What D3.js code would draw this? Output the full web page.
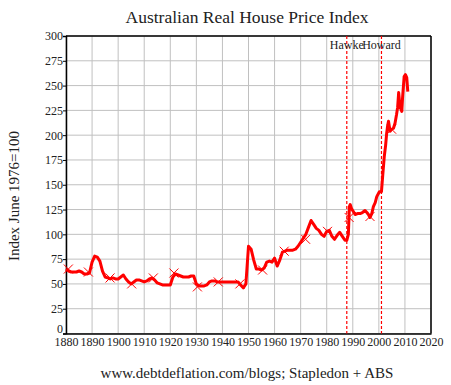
<!DOCTYPE html>
<html><head><meta charset="utf-8">
<script src="https://cdn.jsdelivr.net/npm/d3@7/dist/d3.min.js"></script>
<style>body{margin:0;background:#fff}svg{display:block}</style>
</head><body><svg id="c" width="451" height="385"></svg>
<script>
const years = [1880,1881,1882,1883,1884,1885,1886,1887,1888,1889,1890,1891,1892,1893,1894,1895,1896,1897,1898,1899,
1900,1901,1902,1903,1904,1905,1906,1907,1908,1909,1910,1911,1912,1913,1914,1915,1916,1917,1918,1919,
1920,1921,1922,1923,1924,1925,1926,1927,1928,1929,1930,1931,1932,1933,1934,1935,1936,1937,1938,1939,
1940,1941,1942,1943,1944,1945,1946,1947,1948,1949,1950,1951,1952,1953,1954,1955,1956,1957,1958,1959,
1960,1961,1962,1963,1964,1965,1966,1967,1968,1969,1970,1971,1972,1973,1974,1975,1976,1977,1978,1979,
1980,1981,1982,1983,1984,1985,1986,1987,1987.7,1988.3,1988.7,1989.0,1989.5,1990.2,1990.9,1991.8,1992.8,1993.7,1994.7,1995.4,1996.0,1996.6,1997.3,1997.9,1998.6,1999.2,2000.2,2001.0,2001.5,2002.1,2002.6,2003.0,2003.4,2003.7,2004.3,2004.9,2005.6,2006.2,2006.8,2007.2,2007.6,2008.1,2008.8,2009.1,2009.7,2010.2,2010.7,2011.1];
const values = [65,63,62,62,62,63,62,60,60,61,72,78,77,73,63,57,56,55,56,55,
55,57,59,55,52,50,52,54,54,53,52,53,55,56,54,51,50,49,49,49,
49,57,60,59,58,57,57,57,58,58,50,48,48,48,49,52,53,53,52,52,
52,52,52,52,52,52,52,49,46,50,88,85,74,65,65,64,66,72,73,72,
76,68,74,82,83,84,84,84,85,88,92,96,100,107,114,110,106,104,100,98,
103,104,98,95,99,102,98,94,94,100,128,130,126,123,120,121,121,122,124,122,120,117,121,128,132,138,143,143,160,179,190,202,210,214,204,206,207,212,221,228,243,229,224,238,259,261,258,244];
const markerYears = [1880.9,1888.6,1896.9,1905.2,1913.5,1921.4,1930.4,1938.4,1946.7,1955.4,1963.7,1971.9,1980.3,1988.6,1996.6,2004.9];
const markerValues = [65,62,56,50,56,61,47,52,50,64,83,95,103,117,118,206];
const eventNames = ["Hawke","Howard"];
const eventYears = [1987.7,2001.0];
const xTicks = [1880,1890,1900,1910,1920,1930,1940,1950,1960,1970,1980,1990,2000,2010,2020];
const yTicks = [0,25,50,75,100,125,150,175,200,225,250,275,300];

const svg = d3.select("#c");
const font = "'Liberation Serif','Times New Roman',serif";
const L=66, R=431, T=36, B=333.5;
const x = d3.scaleLinear().domain([1880,2020]).range([L,R]);
const y = d3.scaleLinear().domain([0,300]).range([B,T]);

// grid
svg.append("g").selectAll("line").data(xTicks).join("line")
  .attr("x1",d=>x(d)).attr("x2",d=>x(d)).attr("y1",T).attr("y2",B)
  .attr("stroke","#c0c0c0").attr("stroke-width",1);
svg.append("g").selectAll("line").data(yTicks).join("line")
  .attr("x1",L).attr("x2",R).attr("y1",d=>y(d)).attr("y2",d=>y(d))
  .attr("stroke","#c0c0c0").attr("stroke-width",1);

// axes
const ya = svg.append("g").attr("transform",`translate(${L},0)`)
  .call(d3.axisLeft(y).tickValues(yTicks).tickSize(3).tickPadding(0));
const xa = svg.append("g").attr("transform",`translate(0,${B})`)
  .call(d3.axisBottom(x).tickValues(xTicks).tickFormat(d3.format("d")).tickSize(0).tickPadding(4));
[ya,xa].forEach(g=>{
  g.select(".domain").attr("stroke","#000").attr("stroke-width",1.5);
  g.selectAll(".tick line").attr("stroke","#000");
  g.selectAll("text").attr("font-family",font).attr("font-size",12).attr("fill","#222");
});
ya.selectAll(".tick").filter(d=>d===0).select("text").attr("dy","-0.05em");
// top and right border
svg.append("line").attr("x1",L).attr("x2",R).attr("y1",T).attr("y2",T).attr("stroke","#000").attr("stroke-width",1.5);
svg.append("line").attr("x1",R).attr("x2",R).attr("y1",T).attr("y2",B).attr("stroke","#000").attr("stroke-width",1.5);

// event lines
const ev = svg.append("g");
ev.selectAll("line").data(eventYears).join("line")
  .attr("x1",d=>x(d)).attr("x2",d=>x(d)).attr("y1",T).attr("y2",B)
  .attr("stroke","#ff0000").attr("stroke-width",1.2).attr("stroke-dasharray","3,2");
ev.selectAll("text").data(eventNames).join("text")
  .attr("x",(d,i)=>x(eventYears[i])).attr("y",T+13).attr("text-anchor","middle")
  .attr("font-family",font).attr("font-size",12).attr("fill","#222").text(d=>d);

// series line
const pts = years.map((d,i)=>[d,values[i]]);
svg.append("path").datum(pts)
  .attr("d",d3.line().x(d=>x(d[0])).y(d=>y(d[1])))
  .attr("fill","none").attr("stroke","#ff0000").attr("stroke-width",3).attr("stroke-linejoin","round");

// markers
const s=4.5;
svg.append("g").selectAll("path").data(markerYears).join("path")
  .attr("d",(d,i)=>{const cx=x(d), cy=y(markerValues[i]);
    return `M${cx-s},${cy-s}L${cx+s},${cy+s}M${cx-s},${cy+s}L${cx+s},${cy-s}`;})
  .attr("stroke","#ff0000").attr("stroke-width",1).attr("fill","none");

// titles
svg.append("text").attr("x",247).attr("y",23).attr("text-anchor","middle")
  .attr("font-family",font).attr("font-size",17.5).attr("fill","#222").text("Australian Real House Price Index");
svg.append("text").attr("x",247).attr("y",378).attr("text-anchor","middle")
  .attr("font-family",font).attr("font-size",15).attr("fill","#222").text("www.debtdeflation.com/blogs; Stapledon + ABS");
svg.append("text").attr("transform",`translate(19,196) rotate(-90)`).attr("text-anchor","middle")
  .attr("font-family",font).attr("font-size",15).attr("fill","#222").text("Index June 1976=100");
</script></body></html>
